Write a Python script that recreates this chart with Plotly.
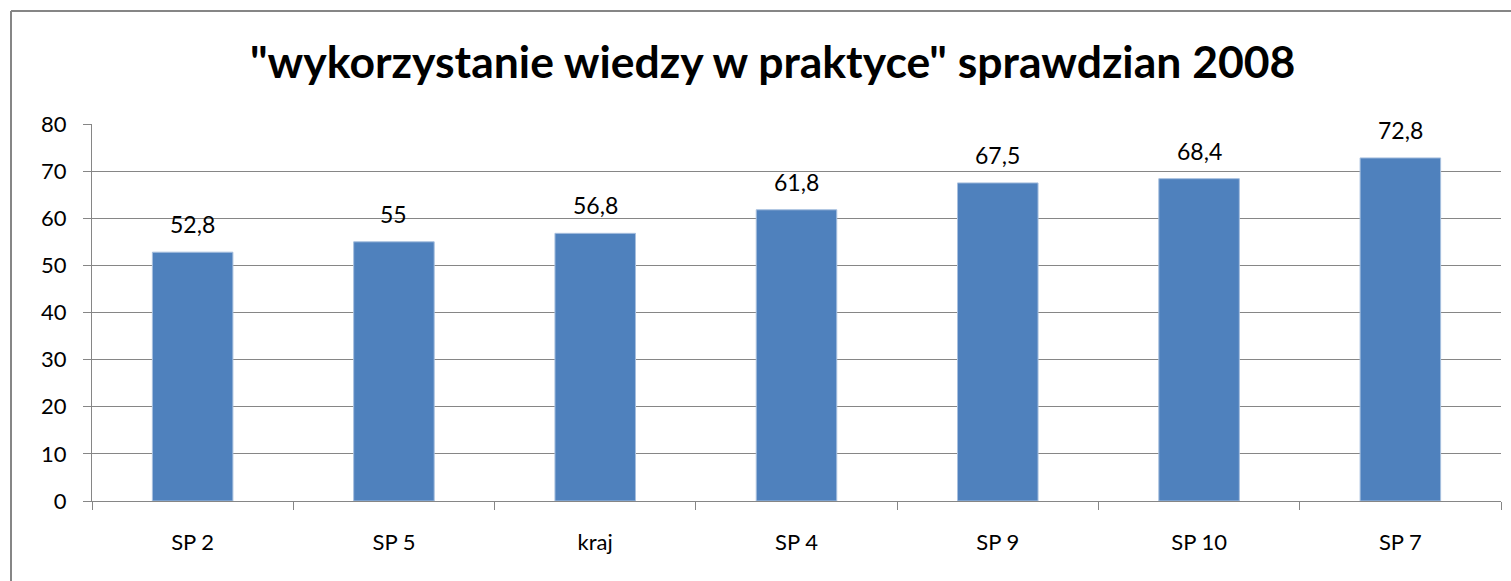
import plotly.graph_objects as go

categories = ["SP 2", "SP 5", "kraj", "SP 4", "SP 9", "SP 10", "SP 7"]
values = [52.8, 55, 56.8, 61.8, 67.5, 68.4, 72.8]
y_ticks = [0, 10, 20, 30, 40, 50, 60, 70, 80]
title = "\"wykorzystanie wiedzy w praktyce\" sprawdzian 2008"

W, H = 1511, 581
L, R, T, B = 92, 10, 124, 80
pw, ph = W - L - R, H - T - B

FONT = "Lato"
GRID = "#868686"

fig = go.Figure()
fig.add_trace(go.Bar(
    x=categories, y=values, width=0.4,
    marker=dict(color="#4F81BD", line=dict(color="#A7BFDE", width=1)),
    hoverinfo="x+y",
))

annotations = []
for c, v in zip(categories, values):
    annotations.append(dict(
        x=c, y=v, xref="x", yref="y", text=f"{v:g}".replace(".", ","),
        showarrow=False, yanchor="bottom", yshift=12,
        font=dict(family=FONT, size=23, color="#000000"),
    ))
annotations.append(dict(
    x=(772 - L) / pw, y=(H - B - 60) / ph, xref="paper", yref="paper",
    text="<b>" + title + "</b>", showarrow=False, xanchor="center", yanchor="middle",
    font=dict(family=FONT, size=44.5, color="#000000"),
))

def px_x(p):
    return (p - L) / pw

def px_y(p):
    return (H - B - p) / ph

shapes = [
    dict(type="line", xref="paper", yref="paper", x0=px_x(11), x1=px_x(1530),
         y0=px_y(11), y1=px_y(11), line=dict(color=GRID, width=2)),
    dict(type="line", xref="paper", yref="paper", x0=px_x(11), x1=px_x(11),
         y0=px_y(11), y1=px_y(600), line=dict(color=GRID, width=2)),
]

fig.update_layout(
    width=W, height=H, autosize=False,
    margin=dict(l=L, r=R, t=T, b=B, pad=0),
    paper_bgcolor="white", plot_bgcolor="white",
    showlegend=False,
    annotations=annotations, shapes=shapes,
    xaxis=dict(
        type="category", showline=True, linecolor=GRID, linewidth=1,
        ticks="outside", tickson="boundaries", ticklen=8, tickcolor=GRID,
        showgrid=False, tickfont=dict(family=FONT, size=22, color="#000000"),
        ticklabelstandoff=22,
    ),
    yaxis=dict(
        range=[0, 80], tickvals=y_ticks, showline=True, linecolor=GRID, linewidth=1,
        ticks="outside", ticklen=8, tickcolor=GRID, showgrid=True, gridcolor=GRID,
        gridwidth=1, zeroline=False, tickfont=dict(family=FONT, size=22, color="#000000"),
        ticklabelstandoff=12,
    ),
)

fig.write_html(
    "out.html",
    config={"displayModeBar": False},
    post_script="document.body.style.margin='0';document.body.style.overflow='hidden';",
)
